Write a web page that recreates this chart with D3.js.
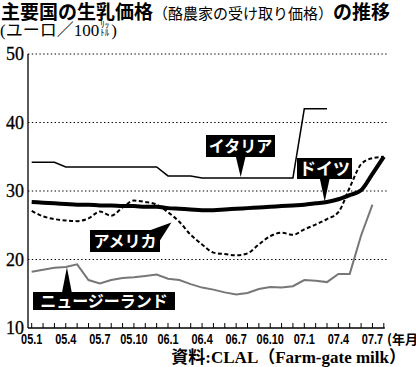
<!DOCTYPE html>
<html>
<head>
<meta charset="utf-8">
<script src="https://cdn.jsdelivr.net/npm/d3@7"></script>
<style>
  body { margin: 0; background: #fff; }
  svg { display: block; }
</style>
</head>
<body>
<svg id="chart" width="416" height="367"></svg>
<script>
// months on the x axis (05.1 .. 07.8)
const months = ["05.1","05.2","05.3","05.4","05.5","05.6","05.7","05.8","05.9","05.10","05.11","05.12",
                "06.1","06.2","06.3","06.4","06.5","06.6","06.7","06.8","06.9","06.10","06.11","06.12",
                "07.1","07.2","07.3","07.4","07.5","07.6","07.7","07.8"];
const tickLabels = ["05.1","05.4","05.7","05.10","06.1","06.4","06.7","06.10","07.1","07.4","07.7"];
const yTicks = [10, 20, 30, 40, 50];

// prices, euro per 100 litres
const italy = [34.2,34.2,34.2,33.5,33.5,33.5,33.5,33.5,33.5,33.5,33.5,33.5,
               32.2,32.2,32.2,31.9,31.9,31.9,31.9,31.9,31.9,31.9,31.9,31.9,
               42.0,42.0,42.0];
const germany = [28.4,28.3,28.2,28.1,28.0,28.0,27.9,27.9,27.8,27.8,27.7,27.7,
                 27.5,27.4,27.3,27.2,27.2,27.3,27.4,27.5,27.6,27.7,27.8,27.9,
                 28.0,28.2,28.4,28.8,29.4,30.1,32.5,35.0];
const usa = [27.1,26.3,25.9,25.7,25.6,26.0,27.0,26.4,27.6,28.6,28.4,28.0,
             26.9,25.5,23.6,22.2,21.0,20.8,20.6,20.9,22.2,23.4,23.9,23.6,
             24.4,25.1,25.9,26.9,30.5,33.9,34.8,35.0];
const newZealand = [18.2,18.5,18.8,18.9,19.3,17.0,16.5,17.0,17.3,17.4,17.6,17.8,
                    17.2,17.0,16.4,15.9,15.6,15.2,14.9,15.1,15.7,16.0,15.9,16.1,
                    17.0,16.9,16.7,17.9,17.9,23.5,28.0];

const svg = d3.select("#chart");
const jpSans = "'Noto Sans CJK JP', 'Noto Sans', sans-serif";
const jpSerif = "'Liberation Serif', 'DejaVu Serif', 'Noto Sans CJK JP', serif";

//scales
const x = d3.scaleLinear().domain([0, months.length - 1]).range([31.7, 383.8]);
const y = d3.scaleLinear().domain([10, 50]).range([328, 54]);
const axisLeft = 28, gridRight = 388;

//title
const title = svg.append("text").attr("x", 1).attr("y", 18.5).attr("font-family", jpSans).attr("fill", "#000");
title.append("tspan").attr("font-size", 19).attr("font-weight", "bold").text("主要国の生乳価格");
title.append("tspan").attr("font-size", 15).text("（酪農家の受け取り価格）");
title.append("tspan").attr("font-size", 19).attr("font-weight", "bold").text("の推移");

//unit line
const unit = svg.append("text").attr("x", 0).attr("y", 36).attr("font-family", jpSerif)
    .attr("font-size", 17).text("(ユーロ／100");
const uw = unit.node().getComputedTextLength();
svg.append("text").attr("x", uw + 1).attr("y", 28).attr("font-family", jpSans).attr("font-size", 9).text("ﾘｯ");
svg.append("text").attr("x", uw + 1).attr("y", 36).attr("font-family", jpSans).attr("font-size", 9).text("ﾄﾙ");
svg.append("text").attr("x", uw + 12).attr("y", 36).attr("font-family", jpSerif).attr("font-size", 17).text(")");

//gridlines
svg.append("g").selectAll("line").data(yTicks.filter(d => d > 10)).join("line")
    .attr("x1", axisLeft).attr("x2", gridRight)
    .attr("y1", d => y(d)).attr("y2", d => y(d))
    .attr("stroke", "#000").attr("stroke-width", 1.2).attr("stroke-dasharray", "1.4,2.4");

//y labels
svg.append("g").selectAll("text").data(yTicks).join("text")
    .attr("x", 24).attr("y", d => y(d) + 6)
    .attr("text-anchor", "end").attr("font-family", jpSerif).attr("font-size", 18)
    .attr("stroke", "#000").attr("stroke-width", 0.3)
    .text(d => d);

//axes lines
svg.append("line").attr("x1", axisLeft).attr("x2", axisLeft).attr("y1", y(50)).attr("y2", y(10))
    .attr("stroke", "#000").attr("stroke-width", 1.3);
svg.append("line").attr("x1", axisLeft).attr("x2", x(months.length - 1) + 1).attr("y1", y(10)).attr("y2", y(10))
    .attr("stroke", "#000").attr("stroke-width", 1.3);
svg.append("g").selectAll("line").data(months).join("line")
    .attr("x1", (d, i) => x(i)).attr("x2", (d, i) => x(i))
    .attr("y1", y(10)).attr("y2", y(10) - 5)
    .attr("stroke", "#000").attr("stroke-width", 1);

//x labels (condensed)
svg.append("g").selectAll("text").data(tickLabels).join("text")
    .attr("transform", d => `translate(${x(months.indexOf(d))},344) scale(0.78,1)`)
    .attr("text-anchor", "middle").attr("font-family", "'Liberation Sans', Arial, sans-serif")
    .attr("font-weight", "bold").attr("font-size", 14)
    .text(d => d);
svg.append("text").attr("x", 387).attr("y", 344).attr("font-family", jpSans)
    .attr("font-weight", "bold").attr("font-size", 13).text("(年月)");

//source
svg.append("text").attr("x", 406).attr("y", 363).attr("text-anchor", "end")
    .attr("font-family", jpSerif).attr("font-weight", "bold").attr("font-size", 17)
    .text("資料:CLAL（Farm-gate milk）");

//series
const lineLinear = d3.line().x((d, i) => x(i)).y(d => y(d));
const lineSmooth = d3.line().x((d, i) => x(i)).y(d => y(d)).curve(d3.curveMonotoneX);

svg.append("path").attr("d", lineLinear(newZealand))
    .attr("fill", "none").attr("stroke", "#777").attr("stroke-width", 2);
svg.append("path").attr("d", lineSmooth(usa))
    .attr("fill", "none").attr("stroke", "#000").attr("stroke-width", 2)
    .attr("stroke-dasharray", "4,2.5");
svg.append("path").attr("d", lineLinear(italy))
    .attr("fill", "none").attr("stroke", "#000").attr("stroke-width", 1.5);
svg.append("path").attr("d", lineSmooth(germany))
    .attr("fill", "none").attr("stroke", "#000").attr("stroke-width", 4);

//labels: box + pointer to the line
const labels = [
    {text: "イタリア", cx: 240.5, top: 135, w: 69, h: 22, size: 16, tip: [18.4, 31.9], base: "bottom"},
    {text: "ドイツ", cx: 324.5, top: 158, w: 55, h: 21, size: 17, tip: [25.8, 28.3], base: "bottom"},
    {text: "アメリカ", cx: 125, top: 230, w: 70, h: 22, size: 16, tip: [12.3, 25.4], base: "corner"},
    {text: "ニュージーランド", cx: 104, top: 292, w: 142, h: 18, size: 16, tip: [3.1, 19.0], base: "top"}
];
const lab = svg.append("g").selectAll("g").data(labels).join("g");
lab.append("path").attr("fill", "#000").attr("d", d => {
    const tx = x(d.tip[0]), ty = y(d.tip[1]) + (d.base === "bottom" ? -1 : d.base === "top" ? 1 : 0);
    const l = d.cx - d.w / 2, r = d.cx + d.w / 2;
    if (d.base === "bottom") {
        const b = d.top + d.h - 1;
        return `M${tx - 5},${b}L${tx},${ty}L${tx + 5},${b}Z`;
    }
    if (d.base === "top") {
        const t = d.top + 1;
        return `M${tx - 5},${t}L${tx},${ty}L${tx + 5},${t}Z`;
    }
    return `M${r - 12},${d.top + 1}L${tx},${ty}L${r - 1},${d.top + 12}Z`;
});
lab.append("rect")
    .attr("x", d => d.cx - d.w / 2).attr("y", d => d.top)
    .attr("width", d => d.w).attr("height", d => d.h).attr("fill", "#000");
lab.append("text")
    .attr("x", d => d.cx).attr("y", d => d.top + d.h / 2 + d.size * 0.36)
    .attr("text-anchor", "middle").attr("fill", "#fff")
    .attr("font-family", jpSans).attr("font-weight", "bold")
    .attr("font-size", d => d.size).text(d => d.text);
</script>
</body>
</html>
